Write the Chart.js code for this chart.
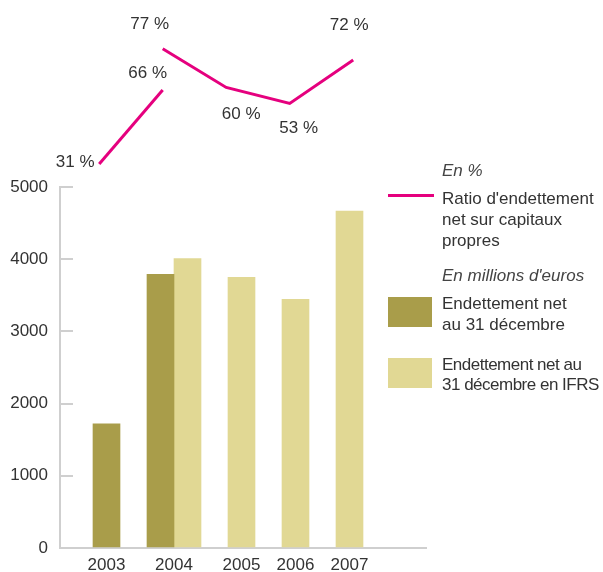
<!DOCTYPE html>
<html lang="fr">
<head>
<meta charset="utf-8">
<script src="https://cdn.jsdelivr.net/npm/chart.js@4.4.1/dist/chart.umd.min.js"></script>
<style>
  body { margin: 0; background: #fff; }
  #wrap { position: relative; width: 603px; height: 572px; font-family: "Liberation Sans", Arial, sans-serif; font-size: 17px; color: #333; }
  #chart { position: absolute; left: 0; top: 0; }
  .leg { position: absolute; left: 442px; line-height: 21px; white-space: nowrap; }
  .head { font-style: italic; color: #444; }
  .sw { position: absolute; left: 388px; }
</style>
</head>
<body>
<div id="wrap">
  <canvas id="chart" width="603" height="572"></canvas>
  <div class="leg head" style="top:160px">En %</div>
  <div class="sw" style="top:194px;width:46px;height:3px;background:#e5007e"></div>
  <div class="leg" style="top:188px">Ratio d'endettement<br>net sur capitaux<br>propres</div>
  <div class="leg head" style="top:265px">En millions d'euros</div>
  <div class="sw" style="top:297px;width:44px;height:30px;background:#a99d4a"></div>
  <div class="leg" style="top:293px">Endettement net<br>au 31 décembre</div>
  <div class="sw" style="top:358px;width:44px;height:30px;background:#e1d894"></div>
  <div class="leg" style="top:355px;line-height:20px;letter-spacing:-0.5px">Endettement net au<br>31 décembre en IFRS</div>
</div>
<script>
// values
var years = [2003, 2004, 2005, 2006, 2007];
var debtYears = [2003, 2004];
var debtValues = [1720, 3790];
var ifrsYears = [2004, 2005, 2006, 2007];
var ifrsValues = [4010, 3750, 3445, 4665];
var ratioValues = [31, 66];
var ratioIfrsValues = [77, 60, 53, 72];
var yTickValues = [0, 1000, 2000, 3000, 4000, 5000];

var darkColor = '#a99d4a';
var lightColor = '#e1d894';
var lineColor = '#e5007e';
var textColor = '#333';
var axisColor = '#cfcfcf';
var fontFamily = '"Liberation Sans", Arial, sans-serif';

function points(xs, ys) {
  return xs.map(function (x, i) { return { x: x, y: ys[i] }; });
}

// where each percentage label sits relative to its point
var labelOffsets = {
  0: [[-24, -2], [-15, -17]],
  1: [[-13, -24], [15, 27], [9, 25], [-4, -35]]
};

var textPlugin = {
  id: 'textPlugin',
  afterDatasetsDraw: function (chart) {
    var ctx = chart.ctx;
    ctx.save();
    ctx.font = '17px ' + fontFamily;
    ctx.fillStyle = textColor;
    ctx.textAlign = 'center';

    // percentage labels
    ctx.textBaseline = 'middle';
    [0, 1].forEach(function (di) {
      var meta = chart.getDatasetMeta(di);
      var ds = chart.data.datasets[di];
      meta.data.forEach(function (pt, i) {
        var off = labelOffsets[di][i];
        ctx.fillText(ds.data[i].y + ' %', pt.x + off[0], pt.y + off[1]);
      });
    });

    // year labels under the bars of each year
    ctx.textBaseline = 'alphabetic';
    years.forEach(function (year) {
      var xs = [];
      [2, 3].forEach(function (di) {
        var ds = chart.data.datasets[di];
        var meta = chart.getDatasetMeta(di);
        ds.data.forEach(function (d, i) {
          if (d.x === year) xs.push(meta.data[i].x);
        });
      });
      var cx = xs.reduce(function (a, b) { return a + b; }, 0) / xs.length;
      ctx.fillText(String(year), cx, chart.chartArea.bottom + 22);
    });
    ctx.restore();
  }
};

new Chart(document.getElementById('chart'), {
  data: {
    datasets: [
      {
        type: 'line',
        label: "Ratio d'endettement net sur capitaux propres",
        data: points(debtYears, ratioValues),
        xAxisID: 'xLine', yAxisID: 'yOld',
        borderColor: lineColor, borderWidth: 3, pointRadius: 0, clip: false
      },
      {
        type: 'line',
        label: "Ratio d'endettement net sur capitaux propres (IFRS)",
        data: points(ifrsYears, ratioIfrsValues),
        xAxisID: 'xLine', yAxisID: 'yIfrs',
        borderColor: lineColor, borderWidth: 3, pointRadius: 0, clip: false
      },
      {
        type: 'bar',
        label: 'Endettement net au 31 décembre',
        data: points(debtYears, debtValues),
        xAxisID: 'x', yAxisID: 'y',
        backgroundColor: darkColor,
        barThickness: 27
      },
      {
        type: 'bar',
        label: 'Endettement net au 31 décembre en IFRS',
        data: points(ifrsYears, ifrsValues),
        xAxisID: 'x', yAxisID: 'y',
        backgroundColor: lightColor,
        barThickness: 27
      }
    ]
  },
  options: {
    responsive: false,
    animation: false,
    events: [],
    layout: { padding: { left: 0, top: 187, right: 177, bottom: 24 } },
    plugins: { legend: { display: false }, tooltip: { enabled: false } },
    scales: {
      x: {
        type: 'linear',
        bounds: 'data',
        offset: false,
        min: 2001.8889, max: 2008.6667,
        ticks: { display: false, stepSize: 1, includeBounds: false },
        grid: { display: false, offset: false },
        border: { display: true, color: axisColor, width: 2 },
        afterFit: function (s) { s.height = 0; }
      },
      xLine: {
        type: 'linear', display: false, bounds: 'data', offset: false,
        min: 2002.3827, max: 2008.1465
      },
      y: {
        type: 'linear',
        min: 0, max: 5000,
        afterBuildTicks: function (s) {
          s.ticks = yTickValues.map(function (v) { return { value: v }; });
        },
        ticks: {
          padding: 25,
          color: textColor,
          font: { size: 17, family: fontFamily },
          callback: function (v) { return String(v); }
        },
        grid: { drawOnChartArea: false, drawTicks: true, tickLength: -13, color: axisColor, lineWidth: 2 },
        border: { display: true, color: axisColor, width: 2 },
        afterFit: function (s) {
          s.width = 60;
          s.paddingTop = 0;
          s.paddingBottom = 0;
        }
      },
      yOld: { type: 'linear', display: false, bounds: 'data', min: -150.6, max: 20.12 },
      yIfrs: { type: 'linear', display: false, bounds: 'data', min: -141.7, max: 16.41 }
    }
  },
  plugins: [textPlugin]
});
</script>
</body>
</html>
